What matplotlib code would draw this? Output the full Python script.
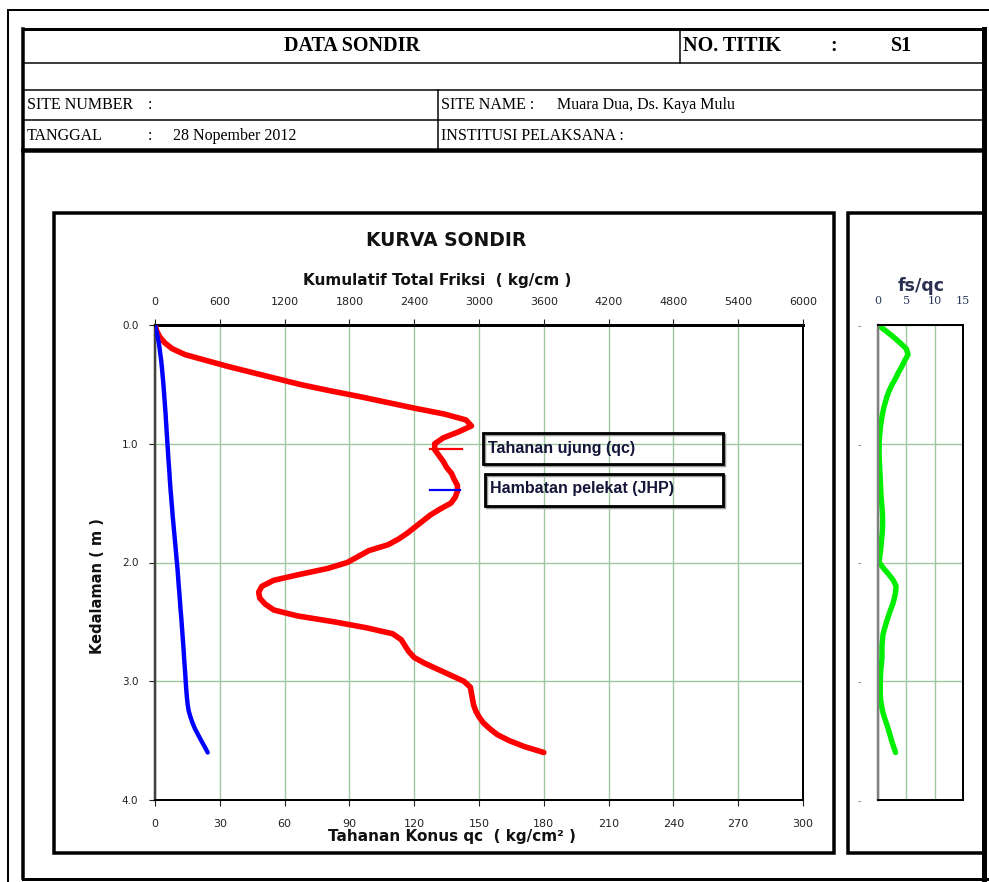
import matplotlib
matplotlib.use("Agg")
import matplotlib.pyplot as plt
from matplotlib.lines import Line2D
from matplotlib.patches import Rectangle

# ---------------- data (read every 0.05 m from the reference) ----------------
depth = [0.00, 0.05, 0.10, 0.15, 0.20, 0.25, 0.30, 0.35, 0.40, 0.45,
         0.50, 0.55, 0.60, 0.65, 0.70, 0.75, 0.80, 0.85, 0.90, 0.95,
         1.00, 1.05, 1.10, 1.15, 1.20, 1.25, 1.30, 1.35, 1.40, 1.45,
         1.50, 1.55, 1.60, 1.65, 1.70, 1.75, 1.80, 1.85, 1.90, 1.95,
         2.00, 2.05, 2.10, 2.15, 2.20, 2.25, 2.30, 2.35, 2.40, 2.45,
         2.50, 2.55, 2.60, 2.65, 2.70, 2.75, 2.80, 2.85, 2.90, 2.95,
         3.00, 3.05, 3.10, 3.15, 3.20, 3.25, 3.30, 3.35, 3.40, 3.45,
         3.50, 3.55, 3.60]
qc = [0, 0.8, 2.2, 4.5, 8, 14, 24, 34, 45, 56,
      67, 80, 94, 107, 120, 134, 144, 146.5, 140.5, 133.5,
      129.5, 129.5, 131.5, 133.5, 135, 137.3, 138.5, 140, 140, 139,
      137, 132, 127.5, 124, 120.5, 117, 113, 108, 99, 94,
      89, 80, 67, 55, 49.5, 48, 48.5, 51, 55, 66,
      83, 98, 110, 114, 115.7, 117.5, 120, 125, 131, 137,
      143, 146, 146.5, 147, 147.5, 148.5, 150, 152, 155, 158.5,
      164, 171, 180]
jhp = [0, 13, 25, 35, 43, 50, 57, 63, 68, 73,
       78, 82, 86, 90, 94, 98, 101, 105, 108, 112,
       115, 119, 122, 126, 130, 134, 137, 141, 145, 150,
       154, 159, 163, 168, 173, 178, 183, 188, 193, 198,
       203, 208, 212, 216, 220, 225, 229, 233, 237, 242,
       246, 250, 254, 258, 262, 266, 269, 273, 277, 281,
       284, 288, 292, 297, 303, 312, 328, 347, 370, 399,
       428, 459, 488]
fsqc = [0, 1.4, 2.7, 3.9, 5.0, 5.3, 4.7, 4.2, 3.6, 3.1,
        2.5, 2.0, 1.6, 1.3, 1.0, 0.8, 0.6, 0.45, 0.35, 0.25,
        0.2, 0.2, 0.2, 0.25, 0.3, 0.35, 0.4, 0.45, 0.5, 0.55,
        0.65, 0.72, 0.8, 0.82, 0.8, 0.75, 0.65, 0.55, 0.45, 0.3,
        0.2, 1.0, 1.9, 2.7, 3.2, 3.1, 2.9, 2.6, 2.2, 1.85,
        1.5, 1.2, 0.9, 0.8, 0.7, 0.7, 0.7, 0.6, 0.5, 0.45,
        0.4, 0.4, 0.4, 0.45, 0.6, 0.8, 1.1, 1.45, 1.8, 2.1,
        2.4, 2.75, 3.1]

qc_ticks = [0, 30, 60, 90, 120, 150, 180, 210, 240, 270, 300]
jhp_ticks = [0, 600, 1200, 1800, 2400, 3000, 3600, 4200, 4800, 5400, 6000]
depth_ticks = [0.0, 1.0, 2.0, 3.0, 4.0]
depth_labels = ["0.0", "1.0", "2.0", "3.0", "4.0"]
fs_ticks = [0, 5, 10, 15]

# header texts
title_left = "DATA SONDIR"
titik_label = "NO. TITIK"
titik_value = "S1"
site_number = "SITE NUMBER"
site_name = "SITE NAME :"
site_name_val = "Muara Dua, Ds. Kaya Mulu"
tanggal = "TANGGAL"
tanggal_val = "28 Nopember 2012"
institusi = "INSTITUSI PELAKSANA :"

W, H = 989, 882
fig = plt.figure(figsize=(W / 100, H / 100), dpi=100)
fig.patch.set_facecolor("white")


def fx(x):
    return x / W


def fy(y):
    return 1 - y / H


def pline(xs, ys, lwpx, color="black", z=5):
    fig.add_artist(Line2D([fx(v) for v in xs], [fy(v) for v in ys],
                          lw=lwpx * 0.72, color=color,
                          transform=fig.transFigure, zorder=z,
                          solid_capstyle="projecting"))


def prect(x0, y0, x1, y1, lwpx, color="black", z=5):
    fig.add_artist(Rectangle((fx(x0), fy(y1)), fx(x1) - fx(x0), fy(y0) - fy(y1),
                             fill=False, lw=lwpx * 0.72, edgecolor=color,
                             transform=fig.transFigure, zorder=z))


serif = "Liberation Serif"

# page border
pline([8, 989], [10, 10], 2)
pline([8, 8], [10, 882], 2)

# header table
pline([23, 984], [29, 29], 3)
pline([23, 23], [29, 878], 3.5)
pline([984, 984], [29, 882], 5)
pline([23, 984], [63, 63], 1.5)
pline([23, 984], [90, 90], 1.5)
pline([23, 984], [120, 120], 1.5)
pline([23, 984], [150, 150], 4.5)
pline([680, 680], [29, 63], 1.5)
pline([438, 438], [90, 150], 1.5)
pline([23, 989], [879, 879], 3)

fig.text(fx(352), fy(46), title_left, fontsize=14.5, fontweight="bold",
         family=serif, ha="center", va="center")
fig.text(fx(683), fy(46), titik_label, fontsize=14.5, fontweight="bold",
         family=serif, ha="left", va="center")
fig.text(fx(834), fy(46), ":", fontsize=14.5, fontweight="bold",
         family=serif, ha="center", va="center")
fig.text(fx(901), fy(46), titik_value, fontsize=14.5, fontweight="bold",
         family=serif, ha="center", va="center")
fig.text(fx(27), fy(105), site_number, fontsize=11.5, family=serif,
         ha="left", va="center")
fig.text(fx(150), fy(105), ":", fontsize=11.5, family=serif,
         ha="center", va="center")
fig.text(fx(441), fy(105), site_name, fontsize=11.5, family=serif,
         ha="left", va="center")
fig.text(fx(557), fy(105), site_name_val, fontsize=11.5, family=serif,
         ha="left", va="center")
fig.text(fx(27), fy(136), tanggal, fontsize=11.5, family=serif,
         ha="left", va="center")
fig.text(fx(150), fy(136), ":", fontsize=11.5, family=serif,
         ha="center", va="center")
fig.text(fx(173), fy(136), tanggal_val, fontsize=11.5, family=serif,
         ha="left", va="center")
fig.text(fx(441), fy(136), institusi, fontsize=11.5, family=serif,
         ha="left", va="center")

# chart boxes
prect(54, 213, 834, 853, 3.5)
prect(848, 213, 984, 853, 3.5)

grid_c = "#9fc79f"

# ---------------- main chart ----------------
ax = fig.add_axes([fx(155), fy(800), (803 - 155) / W, (800 - 325) / H])
ax.set_xlim(0, 300)
ax.set_ylim(4.0, 0.0)
ax.set_xticks(qc_ticks)
ax.set_xticklabels([str(v) for v in qc_ticks])
ax.set_yticks(depth_ticks)
ax.set_yticklabels(depth_labels)
ax.grid(True, color=grid_c, lw=1.0)
ax.set_axisbelow(True)
ax.tick_params(axis="x", bottom=True, direction="out", length=4, width=0.8,
               pad=10, labelsize=8, colors="#222222")
ax.tick_params(axis="y", left=True, direction="out", length=4, width=0.8,
               pad=8, labelsize=7.5, colors="#222222")
for s, lw, c in [("top", 3, "black"), ("bottom", 2, "black"),
                 ("right", 2, "black"), ("left", 2.5, "#404040")]:
    ax.spines[s].set_linewidth(lw * 0.72)
    ax.spines[s].set_color(c)

ax2 = ax.twiny()
ax2.set_xlim(0, 6000)
ax2.set_xticks(jhp_ticks)
ax2.set_xticklabels([str(v) for v in jhp_ticks])
ax2.tick_params(axis="x", top=True, direction="out", length=4, width=0.8,
                pad=9, labelsize=8, colors="#222222")
for s in ax2.spines.values():
    s.set_visible(False)

ax2.plot(jhp, depth, color="#0000ff", lw=4.4 * 0.72,
         solid_joinstyle="round", solid_capstyle="round", zorder=4)
ax.plot(qc, depth, color="#ff0000", lw=5.6 * 0.72,
        solid_joinstyle="round", solid_capstyle="round", zorder=5)

fig.text(fx(446), fy(241), "KURVA SONDIR", fontsize=13.5, fontweight="bold",
         ha="center", va="center", color="#111111")
fig.text(fx(437), fy(280), "Kumulatif Total Friksi  ( kg/cm )", fontsize=11,
         fontweight="bold", ha="center", va="center", color="#111111")
fig.text(fx(452), fy(837), "Tahanan Konus qc  ( kg/cm² )", fontsize=11,
         fontweight="bold", ha="center", va="center", color="#111111")
fig.text(fx(98), fy(586), "Kedalaman ( m )", fontsize=10.5, fontweight="bold",
         ha="center", va="center", rotation=90, color="#111111")

# legend
pline([430, 462], [449, 449], 2.2, color="#ff0000", z=6)
pline([430, 460], [490, 490], 2.2, color="#0000ff", z=6)
prect(485, 435, 725, 466, 2.5, color="#9a9a9a", z=4)
prect(487, 476, 725, 508, 2.5, color="#9a9a9a", z=4)
prect(483, 433, 723, 464, 2.8)
prect(485, 474, 723, 506, 2.8)
fig.text(fx(488), fy(448), "Tahanan ujung (qc)", fontsize=11.5,
         fontweight="bold", ha="left", va="center", color="#15153a",
         family="Liberation Sans")
fig.text(fx(490), fy(489), "Hambatan pelekat (JHP)", fontsize=11.5,
         fontweight="bold", ha="left", va="center", color="#15153a",
         family="Liberation Sans")

# ---------------- fs/qc panel ----------------
ax3 = fig.add_axes([fx(878), fy(800), (963 - 878) / W, (800 - 325) / H])
ax3.set_xlim(0, 15)
ax3.set_ylim(4.0, 0.0)
ax3.set_xticks(fs_ticks)
ax3.set_xticklabels([str(v) for v in fs_ticks], family="DejaVu Serif")
ax3.set_yticks(depth_ticks)
ax3.set_yticklabels(["-"] * len(depth_ticks))
ax3.xaxis.tick_top()
ax3.tick_params(axis="x", top=True, length=0, pad=14, labelsize=8,
                colors="#2a3a5a")
ax3.tick_params(axis="y", left=True, length=0, pad=12, labelsize=7,
                colors="#777777")
ax3.grid(True, color=grid_c, lw=1.0)
ax3.set_axisbelow(True)
for s, lw, c in [("top", 2, "black"), ("bottom", 2, "black"),
                 ("right", 2, "black"), ("left", 2.5, "#808080")]:
    ax3.spines[s].set_linewidth(lw * 0.72)
    ax3.spines[s].set_color(c)
ax3.plot(fsqc, depth, color="#00ee00", lw=5.4 * 0.72,
         solid_joinstyle="round", solid_capstyle="round")
fig.text(fx(921), fy(286), "fs/qc", fontsize=12.5, fontweight="bold",
         ha="center", va="center", color="#2a3050")

fig.savefig("out.png", dpi=100, facecolor="white")
